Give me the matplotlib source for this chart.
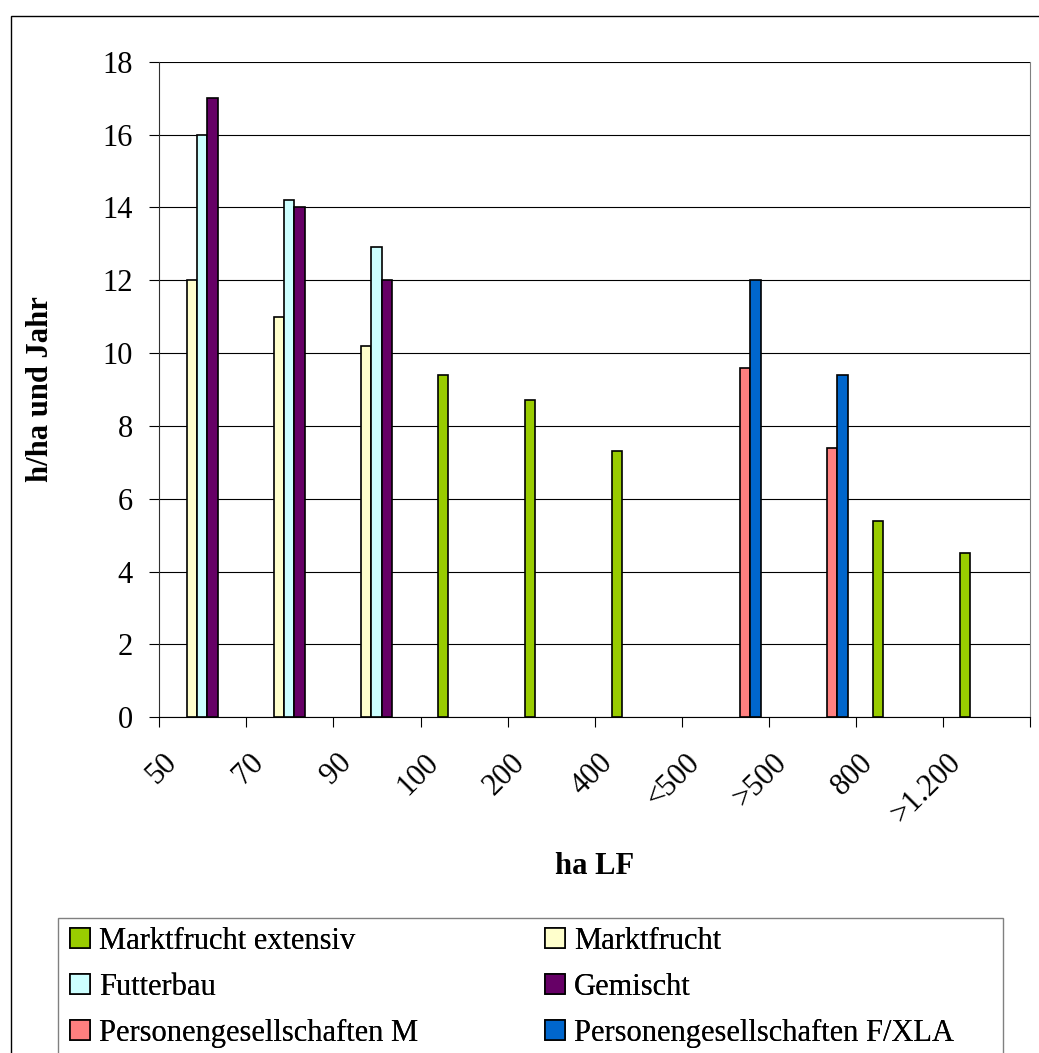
import numpy as np
import matplotlib.pyplot as plt
import matplotlib.transforms as mtransforms
from matplotlib.patches import Patch, Rectangle

plt.rcParams['font.family'] = ['Liberation Serif', 'DejaVu Serif']

# Betriebsgroessen (ha LF)
groessen = ['50', '70', '90', '100', '200', '400', '<500', '>500', '800', '>1.200']

nan = np.nan
marktfrucht_ext = [nan, nan, nan, 9.4, 8.7, 7.3, nan, nan, 5.4, 4.5]
marktfrucht = [12.0, 11.0, 10.2, nan, nan, nan, nan, nan, nan, nan]
futterbau = [16.0, 14.2, 12.9, nan, nan, nan, nan, nan, nan, nan]
gemischt = [17.0, 14.0, 12.0, nan, nan, nan, nan, nan, nan, nan]
pers_m = [nan, nan, nan, nan, nan, nan, 9.6, 7.4, nan, nan]
pers_f = [nan, nan, nan, nan, nan, nan, 12.0, 9.4, nan, nan]

serien = ['Marktfrucht extensiv', 'Marktfrucht', 'Futterbau', 'Gemischt',
          'Personengesellschaften M', 'Personengesellschaften F/XLA']
werte = [marktfrucht_ext, marktfrucht, futterbau, gemischt, pers_m, pers_f]
farben = ['#99CC00', '#FFFFCC', '#CCFFFF', '#660066', '#FF8080', '#0066CC']

W, H = 1039, 1053
fig = plt.figure(figsize=(W / 100, H / 100), dpi=100)

# Rahmen um das ganze Diagramm
fig.patches.append(Rectangle((10.7 / W, -0.1), 1.2, 1 - 15.7 / H + 0.1,
                             transform=fig.transFigure, fill=False,
                             edgecolor='black', lw=1.0))

left, right, bottom, top = 159.3, 1030, 717.3, 61.7
ax = fig.add_axes([left / W, 1 - bottom / H, (right - left) / W, (bottom - top) / H])

x = np.arange(len(groessen))
w = 0.118
for k, (name, vals, col) in enumerate(zip(serien, werte, farben)):
    vals = np.array(vals)
    m = ~np.isnan(vals)
    ax.bar(x[m] - 3 * w + k * w + 0.052, vals[m], width=w, align='edge',
           color=col, edgecolor='black', lw=1.2, zorder=3, label=name)

ax.set_xlim(-0.5, len(groessen) - 0.5)
ax.set_ylim(0, 18)
ax.set_yticks(np.arange(0, 19, 2))
ax.yaxis.grid(True, color='black', lw=0.8)
ax.set_axisbelow(True)

ax.spines['top'].set_visible(False)
ax.spines['right'].set_color('#808080')
ax.spines['left'].set_color('#303030')
ax.spines['bottom'].set_color('black')

ax.tick_params(axis='y', length=7.2, width=0.8, labelsize=22, pad=12)
ax.set_xticks(np.arange(-0.5, len(groessen)), [])
ax.set_xticks(x, groessen, minor=True)
ax.tick_params(axis='x', which='major', length=7.2, width=0.8)
ax.tick_params(axis='x', which='minor', length=0, labelsize=22, pad=22)

shift = mtransforms.ScaledTranslation(-20 / 100, 0, fig.dpi_scale_trans)
for lab in ax.get_xticklabels(minor=True):
    lab.set_rotation(45)
    lab.set_ha('right')
    lab.set_va('top')
    lab.set_transform(lab.get_transform() + shift)

ax.set_ylabel('h/ha und Jahr', fontsize=22, fontweight='bold')
ax.yaxis.set_label_coords((55 - left) / (right - left), 0.5)
ax.set_xlabel('ha LF', fontsize=22, fontweight='bold')
ax.xaxis.set_label_coords(0.5, -(866 - bottom) / (bottom - top))
ax.xaxis.label.set_va('center')

# Legendenrahmen, unten abgeschnitten
fig.patches.append(Rectangle((58.3 / W, -0.1), (1002.7 - 58.3) / W, 1 - 917.7 / H + 0.1,
                             transform=fig.transFigure, fill=False,
                             edgecolor='#808080', lw=1.0))

griffe = [Patch(facecolor=c, edgecolor='black', lw=1.2) for c in farben]
leg_kw = dict(loc='upper left', borderaxespad=0, borderpad=0, fontsize=22,
              frameon=False, handlelength=0.65, handleheight=0.65,
              handletextpad=0.3, labelspacing=0.55)
spalten = [([0, 2, 4], 70), ([1, 3, 5], 545)]
for idx, x0 in spalten:
    lg = fig.legend([griffe[i] for i in idx], [serien[i] for i in idx],
                    bbox_to_anchor=(x0 / W, 1 - 927 / H), **leg_kw)
    fig.add_artist(lg)

fig.savefig('out.png', dpi=100, facecolor='white')
